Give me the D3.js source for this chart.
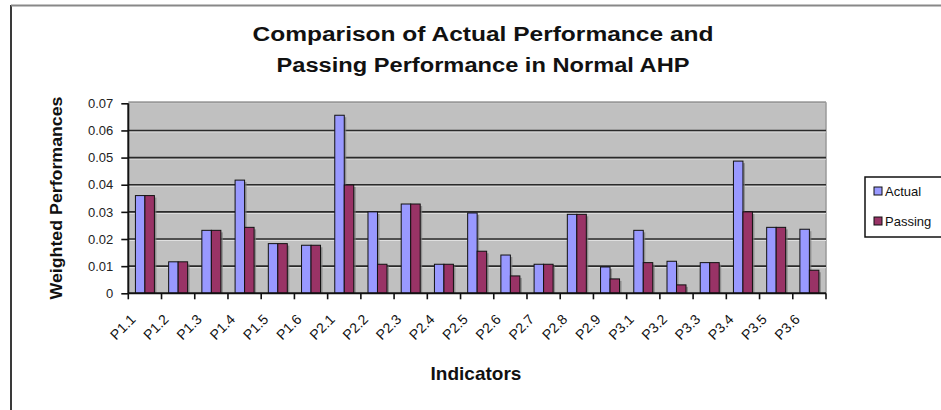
<!DOCTYPE html>
<html><head><meta charset="utf-8">
<script src="https://cdn.jsdelivr.net/npm/d3@7"></script>
<style>body{margin:0;background:#fff;} text{font-family:Arial,"Liberation Sans",sans-serif;}</style>
</head><body>
<svg id="c" width="941" height="410"></svg>
<script>
const categories = ["P1.1","P1.2","P1.3","P1.4","P1.5","P1.6","P2.1","P2.2","P2.3","P2.4","P2.5","P2.6","P2.7","P2.8","P2.9","P3.1","P3.2","P3.3","P3.4","P3.5","P3.6"];
const actual  = [0.036,0.0116,0.0232,0.0417,0.0183,0.0177,0.0656,0.0300,0.0329,0.0107,0.0296,0.0141,0.0107,0.0291,0.0097,0.0232,0.0118,0.0113,0.0487,0.0243,0.0236];
const passing = [0.036,0.0116,0.0232,0.0243,0.0183,0.0177,0.0399,0.0107,0.0329,0.0107,0.0155,0.0064,0.0107,0.0291,0.0053,0.0113,0.0031,0.0113,0.0300,0.0243,0.0085];
const seriesNames = ["Actual","Passing"];
const seriesColors = ["#9999ff","#993366"];
const yTicks = [0,0.01,0.02,0.03,0.04,0.05,0.06,0.07];
const titleLines = ["Comparison of Actual Performance and","Passing Performance in Normal AHP"];

const svg = d3.select("#c");
const L = 128.3, R = 826, T = 103.3, B = 293.3;

// outer frame
svg.append("line").attr("x1",11).attr("x2",11).attr("y1",5).attr("y2",410).attr("stroke","#3a3a3a").attr("stroke-width",2);
svg.append("line").attr("x1",11).attr("x2",941).attr("y1",5.5).attr("y2",5.5).attr("stroke","#888").attr("stroke-width",2);

// title
titleLines.forEach((t,i)=>{
  svg.append("text").attr("x",483).attr("y",41+i*31).attr("text-anchor","middle")
    .attr("font-size",20).attr("font-weight","bold").attr("fill","#111")
    .attr("textLength", i===0?461:413).attr("lengthAdjust","spacingAndGlyphs").text(t);
});

const x = d3.scaleBand().domain(categories).range([L,R]).padding(0);
const xs = d3.scaleBand().domain(seriesNames).range([0,x.bandwidth()]).paddingInner(0).paddingOuter(0.75);
const y = d3.scaleLinear().domain([0,0.07]).range([B,T]);

// plot area
svg.append("rect").attr("x",L).attr("y",T).attr("width",R-L).attr("height",B-T).attr("fill","#c0c0c0");
svg.append("line").attr("x1",L).attr("x2",R).attr("y1",T-1).attr("y2",T-1).attr("stroke","#9a9a9a").attr("stroke-width",2);
svg.append("line").attr("x1",R).attr("x2",R).attr("y1",T-1).attr("y2",B).attr("stroke","#9a9a9a").attr("stroke-width",1.5);

// gridlines
const g = svg.append("g");
yTicks.filter(v=>v>0 && v<0.07).forEach(v=>{
  g.append("line").attr("x1",L).attr("x2",R).attr("y1",y(v)+1.5).attr("y2",y(v)+1.5).attr("stroke","#e0e0e0").attr("stroke-width",1);
  g.append("line").attr("x1",L).attr("x2",R).attr("y1",y(v)).attr("y2",y(v)).attr("stroke","#2a2a2a").attr("stroke-width",1.6);
});

// bars
const data = categories.map((c,i)=>({c, vals:[actual[i],passing[i]]}));
const bars = svg.append("g");
data.forEach(d=>{
  d.vals.forEach((v,j)=>{
    const bx = x(d.c)+xs(seriesNames[j]), bw = xs.bandwidth();
    bars.append("rect").attr("x",bx+2).attr("y",y(v)+2).attr("width",bw).attr("height",B-y(v)-2).attr("fill","#7a7a7a").attr("opacity",0.7);
  });
});
data.forEach(d=>{
  d.vals.forEach((v,j)=>{
    const bx = x(d.c)+xs(seriesNames[j]), bw = xs.bandwidth();
    bars.append("rect").attr("x",bx).attr("y",y(v)).attr("width",bw).attr("height",B-y(v))
      .attr("fill",seriesColors[j]).attr("stroke","#111").attr("stroke-width",1);
  });
});

// y axis
const ya = svg.append("g").attr("transform",`translate(${L},0)`)
  .call(d3.axisLeft(y).tickValues(yTicks).tickSize(7).tickFormat(v=>v===0?"0":d3.format(".2f")(v)));
ya.select(".domain").attr("stroke","#111").attr("stroke-width",2).attr("d",`M0,${T}V${B}`);
ya.selectAll(".tick line").attr("stroke","#111").attr("stroke-width",1.6);
ya.selectAll(".tick text").attr("font-size",13).attr("fill","#222").attr("x",-15)
  .attr("font-family","Arial, 'Liberation Sans', sans-serif");

// x axis
const xa = svg.append("g").attr("transform",`translate(0,${B})`)
  .call(d3.axisBottom(x).tickSize(0).tickFormat(""));
xa.select(".domain").attr("stroke","#111").attr("stroke-width",2).attr("d",`M${L},0H${R}`);
const bounds = categories.map(c=>x(c)).concat([R]);
xa.selectAll(".bt").data(bounds).enter().append("line").attr("class","bt")
  .attr("x1",d=>d).attr("x2",d=>d).attr("y1",0).attr("y2",6).attr("stroke","#111").attr("stroke-width",1.6);
xa.selectAll(".xl").data(categories).enter().append("text").attr("class","xl")
  .attr("transform",d=>`translate(${x(d)+x.bandwidth()/2-8.5},${27}) rotate(-45)`)
  .attr("text-anchor","end").attr("font-size",14).attr("fill","#111").text(d=>d);

// axis titles
svg.append("text").attr("transform","translate(62,198) rotate(-90)").attr("text-anchor","middle")
  .attr("font-size",17).attr("font-weight","bold").attr("fill","#111").attr("textLength",203).attr("lengthAdjust","spacingAndGlyphs").text("Weighted Performances");
svg.append("text").attr("x",476).attr("y",380).attr("text-anchor","middle")
  .attr("font-size",19).attr("font-weight","bold").attr("fill","#111").text("Indicators");

// legend
const lg = svg.append("g");
lg.append("rect").attr("x",865).attr("y",177).attr("width",90).attr("height",60).attr("fill","#fff").attr("stroke","#111").attr("stroke-width",1.5);
seriesNames.forEach((s,i)=>{
  const ly = 193 + i*30;
  lg.append("rect").attr("x",874).attr("y",ly-6).attr("width",8).attr("height",8).attr("fill",seriesColors[i]).attr("stroke","#111").attr("stroke-width",1);
  lg.append("text").attr("x",885).attr("y",ly+3).attr("font-size",13).attr("fill","#111").text(s);
});
</script>
</body></html>
